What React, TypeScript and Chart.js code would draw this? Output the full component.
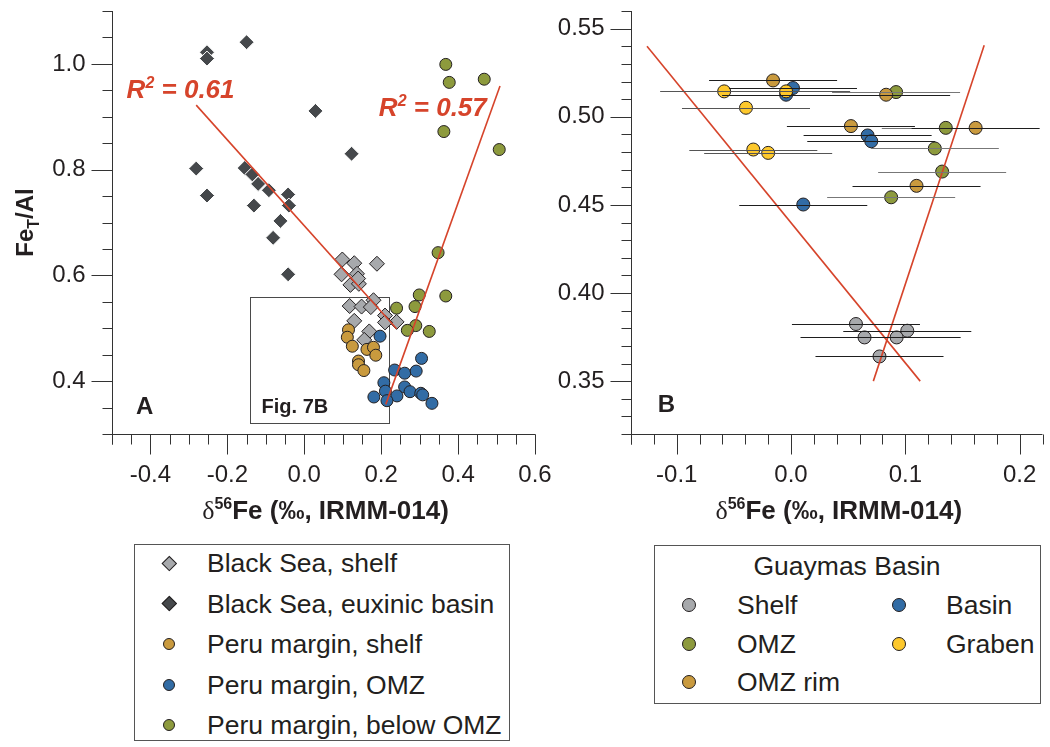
import React, { useEffect, useRef } from "react";
import { Chart, registerables } from "chart.js";

Chart.register(...registerables);

const FONT = "'Liberation Sans', Arial, Helvetica, sans-serif";
const INK = "#231f20";
const RED = "#d6442b";
const C_GRAY = "#a7a9ac";
const C_DARK = "#45484b";
const C_TAN = "#c99a3e";
const C_BLUE = "#326ca5";
const C_OLIVE = "#8d9a3d";
const C_YELLOW = "#fdc82c";

// ---------------- Panel A data: [δ56Fe, FeT/Al] ----------------
const blackSeaShelf: [number, number][] = [
  [0.099, 0.63], [0.13, 0.623], [0.189, 0.622], [0.097, 0.602], [0.137, 0.603],
  [0.12, 0.582], [0.142, 0.584], [0.14, 0.594], [0.18, 0.553], [0.118, 0.542],
  [0.149, 0.541], [0.173, 0.54], [0.21, 0.524], [0.24, 0.512], [0.21, 0.511],
  [0.13, 0.514], [0.169, 0.494], [0.156, 0.478],
];
const blackSeaEuxinic: [number, number][] = [
  [-0.253, 1.022], [-0.253, 1.01], [-0.15, 1.041], [0.029, 0.911], [0.123, 0.83],
  [-0.281, 0.802], [-0.253, 0.751], [-0.155, 0.803], [-0.135, 0.791], [-0.12, 0.773],
  [-0.092, 0.761], [-0.042, 0.753], [-0.04, 0.732], [-0.131, 0.732], [-0.062, 0.703],
  [-0.081, 0.671], [-0.042, 0.602],
];
const peruShelf: [number, number][] = [
  [0.115, 0.497], [0.112, 0.483], [0.125, 0.466], [0.163, 0.46], [0.18, 0.464],
  [0.186, 0.449], [0.141, 0.438], [0.141, 0.431], [0.155, 0.42],
];
const peruOMZ: [number, number][] = [
  [0.197, 0.485], [0.305, 0.443], [0.235, 0.421], [0.261, 0.415], [0.291, 0.419],
  [0.207, 0.397], [0.211, 0.381], [0.241, 0.372], [0.261, 0.389], [0.275, 0.38],
  [0.303, 0.377], [0.308, 0.374], [0.181, 0.37], [0.215, 0.363], [0.332, 0.358],
];
const peruBelowOMZ: [number, number][] = [
  [0.368, 0.999], [0.377, 0.965], [0.468, 0.971], [0.363, 0.872], [0.507, 0.838],
  [0.348, 0.643], [0.299, 0.563], [0.368, 0.561], [0.288, 0.541], [0.24, 0.538],
  [0.29, 0.505], [0.268, 0.496], [0.325, 0.494],
];
const fitBlackSea: [number, number][] = [[-0.281, 0.922], [0.24, 0.499]];
const fitPeru: [number, number][] = [[0.212, 0.356], [0.509, 0.958]];
const r2Values = ["0.61", "0.57"];

// ---------------- Panel B data: [δ56Fe, FeT/Al], ± error on δ56Fe ----------------
const gShelf: [number, number][] = [
  [0.0568, 0.3824], [0.1017, 0.3786], [0.0643, 0.3748], [0.0924, 0.3748], [0.0774, 0.364],
];
const gShelfErr = [0.056, 0.056, 0.056, 0.056, 0.056];
const gOMZ: [number, number][] = [
  [0.0919, 0.514], [0.1354, 0.4937], [0.1258, 0.482], [0.1322, 0.4689], [0.0876, 0.4543],
];
const gOMZErr = [0.056, 0.056, 0.056, 0.056, 0.056];
const gOMZRim: [number, number][] = [
  [-0.0157, 0.5206], [0.0832, 0.5125], [0.0524, 0.4947], [0.1615, 0.4937], [0.1098, 0.4608],
];
const gOMZRimErr = [0.056, 0.056, 0.056, 0.056, 0.056];
const gBasin: [number, number][] = [
  [0.0017, 0.5163], [-0.0043, 0.5125], [0.067, 0.4894], [0.0702, 0.4861], [0.0107, 0.4502],
];
const gBasinErr = [0.056, 0.056, 0.056, 0.056, 0.056];
const gGraben: [number, number][] = [
  [-0.0585, 0.5144], [-0.0043, 0.5144], [-0.0394, 0.5051], [-0.033, 0.4814], [-0.02, 0.4795],
];
const gGrabenErr = [0.056, 0.056, 0.056, 0.056, 0.056];
const lineB1: [number, number][] = [[-0.126, 0.54], [0.113, 0.35]];
const lineB2: [number, number][] = [[0.072, 0.35], [0.169, 0.5405]];

// ---------------- Axes ----------------
const aXRange = [-0.5, 0.6];
const aYRange = [0.3, 1.1];
const aXMajor = [-0.4, -0.2, 0, 0.2, 0.4, 0.6];
const aXLabels = ["-0.4", "-0.2", "0.0", "0.2", "0.4", "0.6"];
const aYMajor = [0.4, 0.6, 0.8, 1.0];
const aYLabels = ["0.4", "0.6", "0.8", "1.0"];
const bXRange = [-0.14, 0.22];
const bYRange = [0.32, 0.56];
const bXMajor = [-0.1, 0, 0.1, 0.2];
const bXLabels = ["-0.1", "0.0", "0.1", "0.2"];
const bYMajor = [0.35, 0.4, 0.45, 0.5, 0.55];
const bYLabels = ["0.35", "0.40", "0.45", "0.50", "0.55"];

function steps(a: number, b: number, step: number): number[] {
  const out: number[] = [];
  const n = Math.round((b - a) / step);
  for (let i = 0; i <= n; i++) out.push(a + i * step);
  return out;
}

const pts = (arr: [number, number][]) => arr.map(([x, y]) => ({ x, y }));

type Run = { t: string; f: string; dy?: number };
function drawRuns(ctx: CanvasRenderingContext2D, runs: Run[], x: number, y: number, align: "left" | "center") {
  let total = 0;
  runs.forEach((r) => {
    ctx.font = r.f;
    total += ctx.measureText(r.t).width;
  });
  let cx = align === "center" ? x - total / 2 : x;
  ctx.textAlign = "left";
  ctx.textBaseline = "alphabetic";
  runs.forEach((r) => {
    ctx.font = r.f;
    ctx.fillText(r.t, cx, y + (r.dy || 0));
    cx += ctx.measureText(r.t).width;
  });
}

const xTitleRuns: Run[] = [
  { t: "δ", f: `26px 'Liberation Serif', 'DejaVu Serif', serif` },
  { t: "56", f: `bold 16px ${FONT}`, dy: -10 },
  { t: "Fe (‰, IRMM-014)", f: `bold 26px ${FONT}` },
];

interface AxisSpec {
  xMinor: number[];
  xMajor: number[];
  xLabels: string[];
  yMinor: number[];
  yMajor: number[];
  yLabels: string[];
  panel: string;
  panelAt: [number, number];
  yTitle?: boolean;
  box?: { x0: number; x1: number; y0: number; y1: number; label: string; at: [number, number] };
  r2?: { value: string; at: [number, number] }[];
  errors?: { data: [number, number][]; err: number[]; color: string }[];
}

function axesPlugin(spec: AxisSpec) {
  return {
    id: "customAxes" + spec.panel,
    beforeDatasetsDraw(chart: any) {
      const { ctx, scales } = chart;
      const xs = scales.x;
      const ys = scales.y;
      if (spec.box) {
        const b = spec.box;
        const x0 = Math.round(xs.getPixelForValue(b.x0)) + 0.5;
        const x1 = Math.round(xs.getPixelForValue(b.x1)) + 0.5;
        const y0 = Math.round(ys.getPixelForValue(b.y1)) + 0.5;
        const y1 = Math.round(ys.getPixelForValue(b.y0)) + 0.5;
        ctx.save();
        ctx.strokeStyle = "#4a4a4a";
        ctx.lineWidth = 1;
        ctx.strokeRect(x0, y0, x1 - x0, y1 - y0);
        ctx.fillStyle = INK;
        ctx.font = `bold 20px ${FONT}`;
        ctx.textAlign = "left";
        ctx.textBaseline = "middle";
        ctx.fillText(b.label, xs.getPixelForValue(b.at[0]), ys.getPixelForValue(b.at[1]));
        ctx.restore();
      }
    },
    afterDatasetsDraw(chart: any) {
      const { ctx, scales } = chart;
      const xs = scales.x;
      const ys = scales.y;
      if (spec.errors) {
        ctx.save();
        ctx.lineWidth = 1.1;
        spec.errors.forEach((s) => {
          ctx.strokeStyle = s.color;
          s.data.forEach(([x, y], i) => {
            const py = Math.round(ys.getPixelForValue(y)) + 0.5;
            ctx.beginPath();
            ctx.moveTo(xs.getPixelForValue(x - s.err[i]), py);
            ctx.lineTo(xs.getPixelForValue(x + s.err[i]), py);
            ctx.stroke();
          });
        });
        ctx.restore();
      }
    },
    afterDraw(chart: any) {
      const { ctx, chartArea, scales } = chart;
      const { left, right, top, bottom } = chartArea;
      const xs = scales.x;
      const ys = scales.y;
      ctx.save();
      ctx.strokeStyle = "#333333";
      ctx.lineWidth = 1;
      const L = Math.round(left) + 0.5;
      const B = Math.round(bottom) + 0.5;
      ctx.beginPath();
      ctx.moveTo(L, top);
      ctx.lineTo(L, B + 10);
      ctx.moveTo(L - 9, B);
      ctx.lineTo(right, B);
      spec.yMinor.forEach((v) => {
        const py = Math.round(ys.getPixelForValue(v)) + 0.5;
        ctx.moveTo(L - 10, py);
        ctx.lineTo(L, py);
      });
      spec.yMajor.forEach((v) => {
        const py = Math.round(ys.getPixelForValue(v)) + 0.5;
        ctx.moveTo(L - 21, py);
        ctx.lineTo(L, py);
      });
      spec.xMinor.forEach((v) => {
        const px = Math.round(xs.getPixelForValue(v)) + 0.5;
        ctx.moveTo(px, B);
        ctx.lineTo(px, B + 10);
      });
      spec.xMajor.forEach((v) => {
        const px = Math.round(xs.getPixelForValue(v)) + 0.5;
        ctx.moveTo(px, B);
        ctx.lineTo(px, B + 20);
      });
      ctx.stroke();

      ctx.fillStyle = INK;
      ctx.font = `24px ${FONT}`;
      ctx.textAlign = "right";
      ctx.textBaseline = "middle";
      spec.yMajor.forEach((v, i) => {
        ctx.fillText(spec.yLabels[i], L - 27, ys.getPixelForValue(v));
      });
      ctx.textAlign = "center";
      spec.xMajor.forEach((v, i) => {
        ctx.fillText(spec.xLabels[i], xs.getPixelForValue(v), B + 41);
      });

      drawRuns(ctx, xTitleRuns, (left + right) / 2 + 2, B + 84, "center");

      if (spec.yTitle) {
        ctx.save();
        ctx.translate(33, ys.getPixelForValue(0.7));
        ctx.rotate(-Math.PI / 2);
        drawRuns(
          ctx,
          [
            { t: "Fe", f: `bold 24px ${FONT}` },
            { t: "T", f: `bold 16px ${FONT}`, dy: 6 },
            { t: "/Al", f: `bold 24px ${FONT}` },
          ],
          0,
          0,
          "center"
        );
        ctx.restore();
      }

      ctx.font = `bold 24px ${FONT}`;
      ctx.textAlign = "center";
      ctx.textBaseline = "middle";
      ctx.fillText(spec.panel, xs.getPixelForValue(spec.panelAt[0]), ys.getPixelForValue(spec.panelAt[1]));

      if (spec.r2) {
        ctx.fillStyle = RED;
        spec.r2.forEach((r) => {
          drawRuns(
            ctx,
            [
              { t: "R", f: `italic bold 26px ${FONT}` },
              { t: "2", f: `italic bold 16px ${FONT}`, dy: -10 },
              { t: " = " + r.value, f: `italic bold 26px ${FONT}` },
            ],
            xs.getPixelForValue(r.at[0]),
            ys.getPixelForValue(r.at[1]) + 9,
            "left"
          );
        });
      }
      ctx.restore();
    },
  };
}

function circleSet(data: [number, number][], color: string, r: number) {
  return {
    data: pts(data),
    pointStyle: "circle",
    pointRadius: r,
    backgroundColor: color,
    borderColor: INK,
    borderWidth: 1,
    clip: false as const,
  };
}

function lineSet(data: [number, number][]) {
  return {
    type: "line" as const,
    data: pts(data),
    showLine: true,
    borderColor: RED,
    borderWidth: 1.6,
    pointRadius: 0,
    fill: false,
    clip: false as const,
  };
}

function commonOptions(xr: number[], yr: number[], padding: any) {
  return {
    responsive: false,
    animation: false as const,
    devicePixelRatio: 1,
    events: [] as any[],
    layout: { padding },
    scales: {
      x: { type: "linear" as const, min: xr[0], max: xr[1], display: false },
      y: { type: "linear" as const, min: yr[0], max: yr[1], display: false },
    },
    plugins: { legend: { display: false }, tooltip: { enabled: false } },
  };
}

function PanelA() {
  const ref = useRef<HTMLCanvasElement>(null);
  useEffect(() => {
    const chart = new Chart(ref.current as HTMLCanvasElement, {
      type: "scatter",
      data: {
        datasets: [
          lineSet(fitBlackSea),
          lineSet(fitPeru),
          circleSet(peruOMZ, C_BLUE, 6),
          circleSet(peruShelf, C_TAN, 6),
          circleSet(peruBelowOMZ, C_OLIVE, 6),
          {
            data: pts(blackSeaShelf),
            pointStyle: "rectRot",
            pointRadius: 7.5,
            backgroundColor: C_GRAY,
            borderColor: INK,
            borderWidth: 1,
            clip: false,
          },
          {
            data: pts(blackSeaEuxinic),
            pointStyle: "rectRot",
            pointRadius: 7.5,
            backgroundColor: C_DARK,
            borderColor: "#ffffff",
            borderWidth: 1,
            clip: false,
          },
        ] as any,
      },
      options: commonOptions(aXRange, aYRange, { left: 112, right: 65, top: 11, bottom: 96 }) as any,
      plugins: [
        axesPlugin({
          xMinor: steps(aXRange[0], aXRange[1], 0.05),
          xMajor: aXMajor,
          xLabels: aXLabels,
          yMinor: steps(aYRange[0], aYRange[1], 0.05),
          yMajor: aYMajor,
          yLabels: aYLabels,
          panel: "A",
          panelAt: [-0.415, 0.35],
          yTitle: true,
          box: { x0: -0.14, x1: 0.22, y0: 0.32, y1: 0.56, label: "Fig. 7B", at: [-0.111, 0.351] },
          r2: [
            { value: r2Values[0], at: [-0.462, 0.952] },
            { value: r2Values[1], at: [0.194, 0.918] },
          ],
        }),
      ] as any,
    });
    return () => chart.destroy();
  }, []);
  return (
    <canvas
      ref={ref}
      width={600}
      height={530}
      style={{ position: "absolute", left: 0, top: 0, width: 600, height: 530 }}
    />
  );
}

function PanelB() {
  const ref = useRef<HTMLCanvasElement>(null);
  useEffect(() => {
    const chart = new Chart(ref.current as HTMLCanvasElement, {
      type: "scatter",
      data: {
        datasets: [
          lineSet(lineB1),
          lineSet(lineB2),
          circleSet(gGraben, C_YELLOW, 6.5),
          circleSet(gOMZRim, C_TAN, 6.5),
          circleSet(gBasin, C_BLUE, 6.5),
          circleSet(gOMZ, C_OLIVE, 6.5),
          circleSet(gShelf, C_GRAY, 6.5),
        ] as any,
      },
      options: commonOptions(bXRange, bYRange, { left: 91, right: 5, top: 11, bottom: 96 }) as any,
      plugins: [
        axesPlugin({
          xMinor: steps(bXRange[0], bXRange[1], 0.02),
          xMajor: bXMajor,
          xLabels: bXLabels,
          yMinor: steps(bYRange[0], bYRange[1], 0.01),
          yMajor: bYMajor,
          yLabels: bYLabels,
          panel: "B",
          panelAt: [-0.109, 0.3365],
          errors: [
            { data: gShelf, err: gShelfErr, color: "#1e1e1e" },
            { data: gOMZ, err: gOMZErr, color: "#777777" },
            { data: gOMZRim, err: gOMZRimErr, color: "#1e1e1e" },
            { data: gBasin, err: gBasinErr, color: "#1e1e1e" },
            { data: gGraben, err: gGrabenErr, color: "#555555" },
          ],
        }),
      ] as any,
    });
    return () => chart.destroy();
  }, []);
  return (
    <canvas
      ref={ref}
      width={510}
      height={530}
      style={{ position: "absolute", left: 540, top: 0, width: 510, height: 530 }}
    />
  );
}

function Marker({ x, y, shape, color, size }: { x: number; y: number; shape: string; color: string; size: number }) {
  if (shape === "diamond") {
    const s = size / Math.SQRT2;
    return (
      <div
        style={{
          position: "absolute",
          left: x - s / 2,
          top: y - s / 2,
          width: s,
          height: s,
          background: color,
          border: `1px solid ${INK}`,
          boxSizing: "border-box",
          transform: "rotate(45deg)",
        }}
      />
    );
  }
  return (
    <div
      style={{
        position: "absolute",
        left: x - size / 2,
        top: y - size / 2,
        width: size,
        height: size,
        borderRadius: "50%",
        background: color,
        border: `1px solid ${INK}`,
        boxSizing: "border-box",
      }}
    />
  );
}

function Label({ x, y, text, size = 26.5, center = false }: { x: number; y: number; text: string; size?: number; center?: boolean }) {
  return (
    <div
      style={{
        position: "absolute",
        left: center ? x - 200 : x,
        width: center ? 400 : undefined,
        textAlign: center ? "center" : "left",
        top: y - 17,
        height: 34,
        lineHeight: "34px",
        fontSize: size,
        fontFamily: FONT,
        color: INK,
        whiteSpace: "nowrap",
      }}
    >
      {text}
    </div>
  );
}

const legendA = [
  { label: "Black Sea, shelf", shape: "diamond", color: C_GRAY },
  { label: "Black Sea, euxinic basin", shape: "diamond", color: C_DARK },
  { label: "Peru margin, shelf", shape: "circle", color: C_TAN },
  { label: "Peru margin, OMZ", shape: "circle", color: C_BLUE },
  { label: "Peru margin, below OMZ", shape: "circle", color: C_OLIVE },
];

const legendB = [
  { label: "Shelf", color: C_GRAY, col: 0, row: 0 },
  { label: "OMZ", color: C_OLIVE, col: 0, row: 1 },
  { label: "OMZ rim", color: C_TAN, col: 0, row: 2 },
  { label: "Basin", color: C_BLUE, col: 1, row: 0 },
  { label: "Graben", color: C_YELLOW, col: 1, row: 1 },
];

export default function App() {
  return (
    <div
      style={{
        position: "absolute",
        left: 0,
        top: 0,
        width: 1050,
        height: 747,
        background: "#ffffff",
        overflow: "hidden",
      }}
    >
      <PanelA />
      <PanelB />
      <div
        style={{
          position: "absolute",
          left: 134,
          top: 544,
          width: 376,
          height: 197,
          border: "1px solid #555",
          boxSizing: "border-box",
        }}
      />
      {legendA.map((it, i) => (
        <React.Fragment key={it.label}>
          <Marker x={169} y={563 + 40.5 * i} shape={it.shape} color={it.color} size={it.shape === "diamond" ? 15 : 12} />
          <Label x={207} y={563 + 40.5 * i} text={it.label} />
        </React.Fragment>
      ))}
      <div
        style={{
          position: "absolute",
          left: 654,
          top: 545,
          width: 387,
          height: 159,
          border: "1px solid #555",
          boxSizing: "border-box",
        }}
      />
      <Label x={847} y={566} text="Guaymas Basin" center />
      {legendB.map((it) => (
        <React.Fragment key={it.label}>
          <Marker x={it.col === 0 ? 689 : 899} y={605 + 38.5 * it.row} shape="circle" color={it.color} size={14} />
          <Label x={it.col === 0 ? 737 : 946} y={605 + 38.5 * it.row} text={it.label} />
        </React.Fragment>
      ))}
    </div>
  );
}
